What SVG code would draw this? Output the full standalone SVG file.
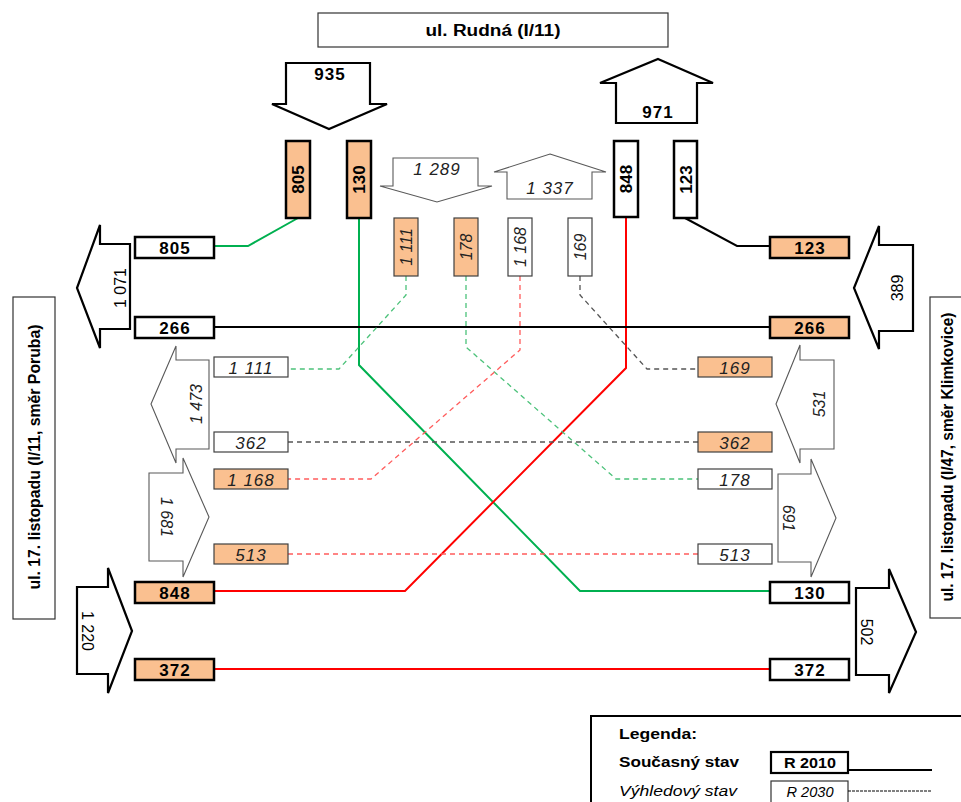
<svg xmlns="http://www.w3.org/2000/svg" width="961" height="802" viewBox="0 0 961 802">
<style>
.bg{fill:#fff}
.lbl{fill:#fff;stroke:#333;stroke-width:1.2}
.big{fill:#fff;stroke:#000;stroke-width:2.2;stroke-linejoin:miter}
.thin{fill:#fff;stroke:#595959;stroke-width:1.1}
.bo{fill:#FAC090;stroke:#000;stroke-width:2.5}
.bw{fill:#fff;stroke:#000;stroke-width:2.5}
.to{fill:#FAC090;stroke:#404040;stroke-width:1.2}
.tw{fill:#fff;stroke:#404040;stroke-width:1.2}
text{font-family:"Liberation Sans",Arial,sans-serif;fill:#000}
.nb{font-size:17px;font-weight:bold;text-anchor:middle;letter-spacing:1px}
.ni{font-size:17px;font-style:italic;text-anchor:middle;letter-spacing:1px;fill:#222}
.rb{font-size:17px;font-weight:bold;text-anchor:middle}
.ri{font-size:16px;font-style:italic;text-anchor:middle;fill:#222}
.ar{font-size:16px;text-anchor:middle}
.ari{font-size:16px;font-style:italic;text-anchor:middle;fill:#222}
.side{font-size:16px;font-weight:bold;text-anchor:middle}
.g{stroke:#00B050;stroke-width:2;fill:none}
.r{stroke:#FF0000;stroke-width:2;fill:none}
.k{stroke:#000;stroke-width:2;fill:none}
.gd{stroke:#4CC27A;stroke-width:1.3;fill:none;stroke-dasharray:5,4}
.rd{stroke:#FF5C5C;stroke-width:1.3;fill:none;stroke-dasharray:5,4}
.kd{stroke:#555;stroke-width:1.3;fill:none;stroke-dasharray:5,4}
</style>
<rect class="bg" x="0" y="0" width="961" height="802"/>

<g id="title">
<rect class="lbl" x="318" y="13" width="350" height="34"/>
<text x="493" y="36" font-size="16" font-weight="bold" text-anchor="middle" textLength="135" lengthAdjust="spacingAndGlyphs">ul. Rudná (I/11)</text>
</g>
<g id="label-left">
<rect class="lbl" x="13" y="297" width="42" height="322"/>
<text class="side" transform="rotate(-90 34 457)" x="34" y="463" textLength="265" lengthAdjust="spacingAndGlyphs">ul. 17. listopadu (I/11, směr Poruba)</text>
</g>
<g id="label-right">
<rect class="lbl" x="930" y="297" width="40" height="321"/>
<text class="side" transform="rotate(-90 947 457)" x="947" y="463" textLength="289" lengthAdjust="spacingAndGlyphs">ul. 17. listopadu (I/47, směr Klimkovice)</text>
</g>

<g id="connectors">
<polyline class="g" points="298,218 248,246 214,246"/>
<polyline class="g" points="359,218 359,365 580,591 770,591"/>
<polyline class="r" points="626,217 626,368 405,591 214,591"/>
<polyline class="k" points="685,218 737,246 770,246"/>
<line class="k" x1="214" y1="327" x2="770" y2="327"/>
<line class="r" x1="214" y1="669" x2="770" y2="669"/>
<polyline class="gd" points="406,276 406,295 339,369 288,369"/>
<polyline class="gd" points="466,276 466,347 616,479 698,479"/>
<polyline class="rd" points="520,276 520,350 371,479 288,479"/>
<polyline class="kd" points="580,276 580,295 647,369 698,369"/>
<line class="kd" x1="288" y1="442" x2="698" y2="442"/>
<line class="rd" x1="288" y1="554" x2="698" y2="554"/>
</g>

<g id="arrow-935">
<polygon class="big" points="286,63 370,63 370,104 387,104 329,129 272,104 286,104"/>
<text class="nb" x="330" y="80">935</text>
</g>
<g id="arrow-971">
<polygon class="big" points="658,59 713,83 697,83 697,123 616,123 616,83 600,83"/>
<text class="nb" x="658" y="118">971</text>
</g>
<g id="arrow-1289">
<polygon class="thin" points="393,158 478,158 478,186 492,186 437,202 380,186 393,186"/>
<text class="ni" x="437" y="175">1 289</text>
</g>
<g id="arrow-1337">
<polygon class="thin" points="550,154 606,172 592,172 592,199 507,199 507,172 494,172"/>
<text class="ni" x="550" y="194">1 337</text>
</g>

<g id="v805"><rect class="bo" x="286" y="141" width="24" height="77"/><text class="rb" transform="rotate(-90 298 179.5)" x="298" y="185.5">805</text></g>
<g id="v130"><rect class="bo" x="347" y="141" width="24" height="77"/><text class="rb" transform="rotate(-90 359 179.5)" x="359" y="185.5">130</text></g>
<g id="v848"><rect class="bw" x="614" y="141" width="24" height="76"/><text class="rb" transform="rotate(-90 626 179)" x="626" y="185">848</text></g>
<g id="v123"><rect class="bw" x="674" y="141" width="23" height="77"/><text class="rb" transform="rotate(-90 685.5 179.5)" x="685.5" y="185.5">123</text></g>

<g id="v1111"><rect class="to" x="394" y="218" width="24" height="58"/><text class="ri" transform="rotate(-90 406 247)" x="406" y="252.5">1 111</text></g>
<g id="v178"><rect class="to" x="454" y="218" width="24" height="58"/><text class="ri" transform="rotate(-90 466 247)" x="466" y="252.5">178</text></g>
<g id="v1168"><rect class="tw" x="508" y="218" width="24" height="58"/><text class="ri" transform="rotate(-90 520 247)" x="520" y="252.5">1 168</text></g>
<g id="v169"><rect class="tw" x="568" y="218" width="24" height="58"/><text class="ri" transform="rotate(-90 580 247)" x="580" y="252.5">169</text></g>

<g id="arrow-1071">
<polygon class="big" points="77,288 100,225 100,244 130,244 130,329 100,329 100,348"/>
<text class="ar" transform="rotate(-90 120 288)" x="120" y="294">1 071</text>
</g>
<g id="arrow-1473">
<polygon class="thin" points="151,404 176,346 176,360 209,360 209,449 176,449 176,463"/>
<text class="ari" transform="rotate(-90 196 404)" x="196" y="410">1 473</text>
</g>
<g id="arrow-1681">
<polygon class="thin" points="209,517 183,458 183,473 149,473 149,561 183,561 183,577"/>
<text class="ari" transform="rotate(90 167 517)" x="167" y="523">1 681</text>
</g>
<g id="arrow-1220">
<polygon class="big" points="132,631 108,568 108,587 77,587 77,674 108,674 108,693"/>
<text class="ar" transform="rotate(90 88 631)" x="88" y="637">1 220</text>
</g>
<g id="arrow-389">
<polygon class="big" points="854,288 879,226 879,245 913,245 913,331 879,331 879,349"/>
<text class="ar" transform="rotate(-90 897 288)" x="897" y="294">389</text>
</g>
<g id="arrow-531">
<polygon class="thin" points="776,404 800,345 800,360 834,360 834,449 800,449 800,463"/>
<text class="ari" transform="rotate(-90 819 404)" x="819" y="410">531</text>
</g>
<g id="arrow-691">
<polygon class="thin" points="836,518 811,459 811,474 778,474 778,562 811,562 811,577"/>
<text class="ari" transform="rotate(90 789 518)" x="789" y="524">691</text>
</g>
<g id="arrow-502">
<polygon class="big" points="916,632 889,569 889,588 856,588 856,675 889,675 889,693"/>
<text class="ar" transform="rotate(90 867 632)" x="867" y="638">502</text>
</g>

<g id="l805"><rect class="bw" x="135" y="237" width="79" height="21"/><text class="nb" x="175" y="254">805</text></g>
<g id="l266"><rect class="bw" x="135" y="317" width="79" height="21"/><text class="nb" x="175" y="334">266</text></g>
<g id="l1111"><rect class="tw" x="214" y="357" width="74" height="20"/><text class="ni" x="251" y="373.5">1 111</text></g>
<g id="l362"><rect class="tw" x="214" y="432" width="74" height="20"/><text class="ni" x="251" y="448.5">362</text></g>
<g id="l1168"><rect class="to" x="214" y="469" width="74" height="20"/><text class="ni" x="251" y="485.5">1 168</text></g>
<g id="l513"><rect class="to" x="214" y="544" width="74" height="20"/><text class="ni" x="251" y="560.5">513</text></g>
<g id="l848"><rect class="bo" x="135" y="582" width="79" height="21"/><text class="nb" x="175" y="599">848</text></g>
<g id="l372"><rect class="bo" x="135" y="659" width="79" height="21"/><text class="nb" x="175" y="676">372</text></g>

<g id="r123"><rect class="bo" x="770" y="237" width="79" height="21"/><text class="nb" x="810" y="254">123</text></g>
<g id="r266"><rect class="bo" x="770" y="317" width="79" height="21"/><text class="nb" x="810" y="334">266</text></g>
<g id="r169"><rect class="to" x="698" y="357" width="74" height="20"/><text class="ni" x="735" y="373.5">169</text></g>
<g id="r362"><rect class="to" x="698" y="432" width="74" height="20"/><text class="ni" x="735" y="448.5">362</text></g>
<g id="r178"><rect class="tw" x="698" y="469" width="74" height="20"/><text class="ni" x="735" y="485.5">178</text></g>
<g id="r513"><rect class="tw" x="698" y="544" width="74" height="20"/><text class="ni" x="735" y="560.5">513</text></g>
<g id="r130"><rect class="bw" x="770" y="582" width="79" height="21"/><text class="nb" x="810" y="599">130</text></g>
<g id="r372"><rect class="bw" x="770" y="659" width="79" height="21"/><text class="nb" x="810" y="676">372</text></g>

<g id="legend">
<rect x="591" y="716" width="400" height="100" fill="#fff" stroke="#000" stroke-width="2"/>
<text x="619" y="739" font-size="15" font-weight="bold" textLength="78" lengthAdjust="spacingAndGlyphs">Legenda:</text>
<text x="619" y="767" font-size="15" font-weight="bold" textLength="120" lengthAdjust="spacingAndGlyphs">Současný stav</text>
<text x="619" y="796" font-size="15" font-style="italic" fill="#333" textLength="118" lengthAdjust="spacingAndGlyphs">Výhledový stav</text>
<rect x="771" y="752" width="77" height="21" fill="#fff" stroke="#000" stroke-width="2.2"/>
<text x="810" y="768" font-size="14" font-weight="bold" text-anchor="middle" textLength="52" lengthAdjust="spacingAndGlyphs">R 2010</text>
<line x1="848" y1="770" x2="932" y2="770" stroke="#000" stroke-width="2"/>
<rect x="771" y="781" width="77" height="25" fill="#fff" stroke="#333" stroke-width="1.2"/>
<text x="810" y="797" font-size="14" font-style="italic" text-anchor="middle" fill="#333" textLength="47" lengthAdjust="spacingAndGlyphs">R 2030</text>
<line x1="848" y1="791" x2="932" y2="791" stroke="#000" stroke-width="1" stroke-dasharray="3,1"/>
</g>
</svg>
